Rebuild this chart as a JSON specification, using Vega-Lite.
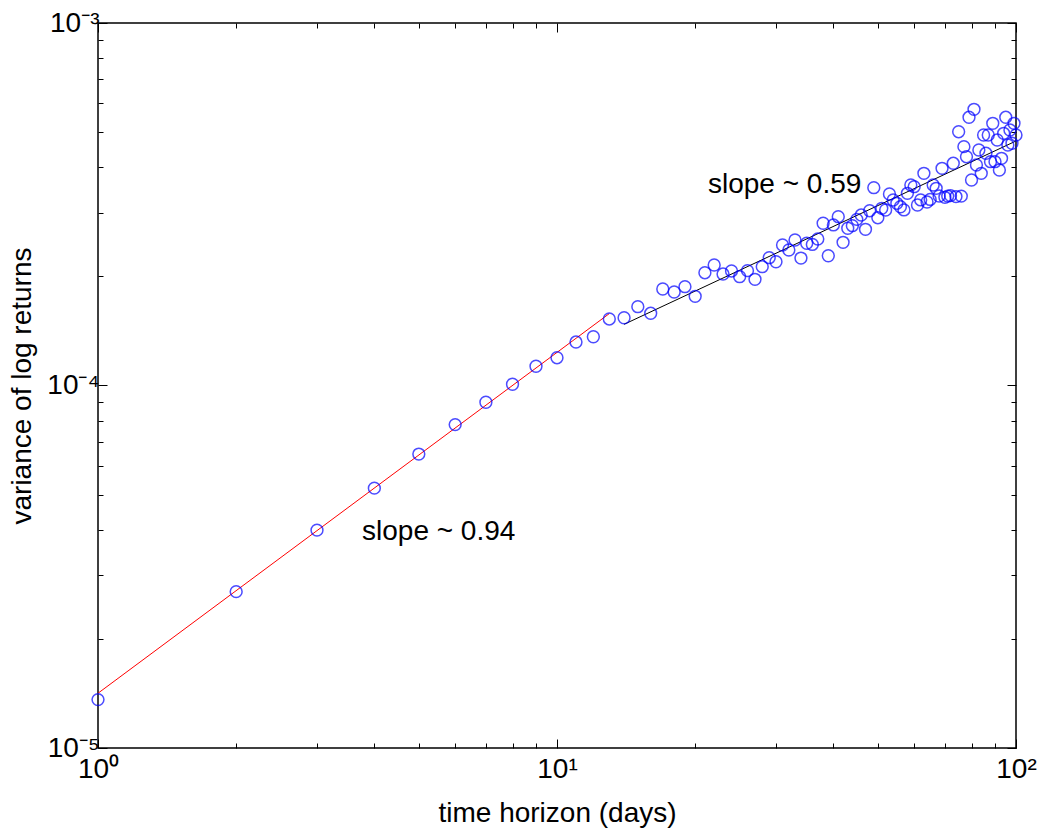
{
  "$schema": "https://vega.github.io/schema/vega-lite/v6.json",
  "autosize": "none",
  "width": 918,
  "height": 725,
  "padding": {"left": 98, "top": 23, "right": 24, "bottom": 83},
  "background": "white",
  "config": {
    "view": {"stroke": "#000000", "strokeWidth": 1.5},
    "font": "Liberation Sans",
    "axis": {"grid": false, "domain": false, "labelFlush": false, "tickColor": "#000000", "tickWidth": 1, "labelColor": "#000000", "titleColor": "#000000", "labelFont": "Liberation Sans", "titleFont": "Liberation Sans", "labelFontSize": 28, "titleFontSize": 28, "titleFontWeight": "normal"}
  },
  "datasets": {
    "pts": [
      {"d":1,"v":1.36e-5},{"d":2,"v":2.70e-5},{"d":3,"v":3.99e-5},{"d":4,"v":5.21e-5},{"d":5,"v":6.47e-5},
      {"d":6,"v":7.80e-5},{"d":7,"v":8.99e-5},{"d":8,"v":1.008e-4},{"d":9,"v":1.130e-4},{"d":10,"v":1.193e-4},
      {"d":11,"v":1.318e-4},{"d":12,"v":1.363e-4},{"d":13,"v":1.526e-4},{"d":14,"v":1.538e-4},{"d":15,"v":1.650e-4},
      {"d":16,"v":1.582e-4},{"d":17,"v":1.846e-4},{"d":18,"v":1.811e-4},{"d":19,"v":1.873e-4},{"d":20,"v":1.762e-4},
      {"d":21,"v":2.047e-4},{"d":22,"v":2.150e-4},{"d":23,"v":2.030e-4},{"d":24,"v":2.070e-4},{"d":25,"v":1.996e-4},
      {"d":26,"v":2.074e-4},{"d":27,"v":1.963e-4},{"d":28,"v":2.127e-4},{"d":29,"v":2.252e-4},{"d":30,"v":2.195e-4},
      {"d":31,"v":2.441e-4},{"d":32,"v":2.365e-4},{"d":33,"v":2.520e-4},{"d":34,"v":2.247e-4},{"d":35,"v":2.468e-4},
      {"d":36,"v":2.45e-4},{"d":37,"v":2.536e-4},{"d":38,"v":2.803e-4},{"d":39,"v":2.280e-4},{"d":40,"v":2.773e-4},
      {"d":41,"v":2.922e-4},{"d":42,"v":2.483e-4},{"d":43,"v":2.715e-4},{"d":44,"v":2.760e-4},{"d":45,"v":2.873e-4},
      {"d":46,"v":2.953e-4},{"d":47,"v":2.697e-4},{"d":48,"v":3.035e-4},{"d":49,"v":3.513e-4},{"d":50,"v":2.903e-4},
      {"d":51,"v":3.082e-4},{"d":52,"v":3.049e-4},{"d":53,"v":3.375e-4},{"d":54,"v":3.249e-4},{"d":55,"v":3.181e-4},
      {"d":56,"v":3.113e-4},{"d":57,"v":3.05e-4},{"d":58,"v":3.390e-4},{"d":59,"v":3.573e-4},{"d":60,"v":3.535e-4},
      {"d":61,"v":3.147e-4},{"d":62,"v":3.25e-4},{"d":63,"v":3.849e-4},{"d":64,"v":3.208e-4},{"d":65,"v":3.26e-4},
      {"d":66,"v":3.573e-4},{"d":67,"v":3.499e-4},{"d":68,"v":3.332e-4},{"d":69,"v":3.973e-4},{"d":70,"v":3.305e-4},
      {"d":71,"v":3.33e-4},{"d":72,"v":3.34e-4},{"d":73,"v":4.102e-4},{"d":74,"v":3.32e-4},{"d":75,"v":5.013e-4},
      {"d":76,"v":3.33e-4},{"d":77,"v":4.559e-4},{"d":78,"v":4.277e-4},{"d":79,"v":5.494e-4},{"d":80,"v":3.689e-4},
      {"d":81,"v":5.780e-4},{"d":82,"v":4.058e-4},{"d":83,"v":4.464e-4},{"d":84,"v":3.849e-4},{"d":85,"v":4.909e-4},
      {"d":86,"v":4.371e-4},{"d":87,"v":4.909e-4},{"d":88,"v":4.144e-4},{"d":89,"v":5.288e-4},{"d":90,"v":4.144e-4},
      {"d":91,"v":4.756e-4},{"d":92,"v":3.930e-4},{"d":93,"v":4.234e-4},{"d":94,"v":4.963e-4},{"d":95,"v":5.494e-4},
      {"d":96,"v":4.607e-4},{"d":97,"v":5.068e-4},{"d":98,"v":4.658e-4},{"d":99,"v":5.288e-4},{"d":100,"v":4.909e-4}
    ],
    "fits": [
      {"fit":"short","d":1,"v":1.416e-5},{"fit":"short","d":13,"v":1.579e-4},
      {"fit":"long","d":14,"v":1.475e-4},{"fit":"long","d":100,"v":4.726e-4}
    ],
    "notes": [
      {"d":3.76,"v":3.748e-5,"label":"slope ~ 0.94"},
      {"d":21.33,"v":3.396e-4,"label":"slope ~ 0.59"}
    ]
  },
  "layer": [
    {
      "data": {"name": "fits"},
      "mark": {"type": "line", "strokeWidth": 1, "clip": false},
      "encoding": {
        "x": {"field": "d", "type": "quantitative", "scale": {"type": "log", "domain": [1, 100], "nice": false},
          "axis": {"orient": "top", "labels": false, "title": null, "values": [1,2,3,4,5,6,7,8,9,10,20,30,40,50,60,70,80,90,100],
            "tickSize": {"condition": {"test": "datum.value == 1 || datum.value == 10 || datum.value == 100", "value": -9}, "value": -5}}},
        "y": {"field": "v", "type": "quantitative", "scale": {"type": "log", "domain": [1e-5, 1e-3], "nice": false},
          "axis": {"orient": "right", "labels": false, "title": null, "values": [1e-5,2e-5,3e-5,4e-5,5e-5,6e-5,7e-5,8e-5,9e-5,1e-4,2e-4,3e-4,4e-4,5e-4,6e-4,7e-4,8e-4,9e-4,1e-3],
            "tickSize": {"condition": {"test": "datum.value == 0.00001 || datum.value == 0.0001 || datum.value == 0.001", "value": -9}, "value": -5}}},
        "color": {"field": "fit", "type": "nominal", "scale": {"domain": ["short", "long"], "range": ["#ff0000", "#000000"]}, "legend": null},
        "detail": {"field": "fit"}
      }
    },
    {
      "data": {"name": "pts"},
      "mark": {"type": "point", "shape": "circle", "filled": false, "size": 140, "strokeWidth": 1.5, "color": "#0000ff", "clip": false},
      "encoding": {
        "x": {"field": "d", "type": "quantitative", "scale": {"type": "log", "domain": [1, 100], "nice": false},
          "axis": {"orient": "bottom", "title": "time horizon (days)", "titlePadding": 16, "labelPadding": 16, "values": [1,2,3,4,5,6,7,8,9,10,20,30,40,50,60,70,80,90,100],
            "labelExpr": "datum.value == 1 ? '10⁰' : datum.value == 10 ? '10¹' : datum.value == 100 ? '10²' : ''",
            "tickSize": {"condition": {"test": "datum.value == 1 || datum.value == 10 || datum.value == 100", "value": -9}, "value": -5}}},
        "y": {"field": "v", "type": "quantitative", "scale": {"type": "log", "domain": [1e-5, 1e-3], "nice": false},
          "axis": {"orient": "left", "title": "variance of log returns", "titlePadding": 10, "labelPadding": 8, "values": [1e-5,2e-5,3e-5,4e-5,5e-5,6e-5,7e-5,8e-5,9e-5,1e-4,2e-4,3e-4,4e-4,5e-4,6e-4,7e-4,8e-4,9e-4,1e-3],
            "labelExpr": "datum.value == 0.00001 ? '10⁻⁵' : datum.value == 0.0001 ? '10⁻⁴' : datum.value == 0.001 ? '10⁻³' : ''",
            "tickSize": {"condition": {"test": "datum.value == 0.00001 || datum.value == 0.0001 || datum.value == 0.001", "value": -9}, "value": -5}}}
      }
    },
    {
      "data": {"name": "notes"},
      "mark": {"type": "text", "align": "left", "baseline": "alphabetic", "fontSize": 28, "font": "Liberation Sans", "color": "#000000"},
      "encoding": {
        "x": {"field": "d", "type": "quantitative", "axis": null},
        "y": {"field": "v", "type": "quantitative", "axis": null},
        "text": {"field": "label"}
      }
    }
  ],
  "resolve": {"axis": {"x": "independent", "y": "independent"}}
}
